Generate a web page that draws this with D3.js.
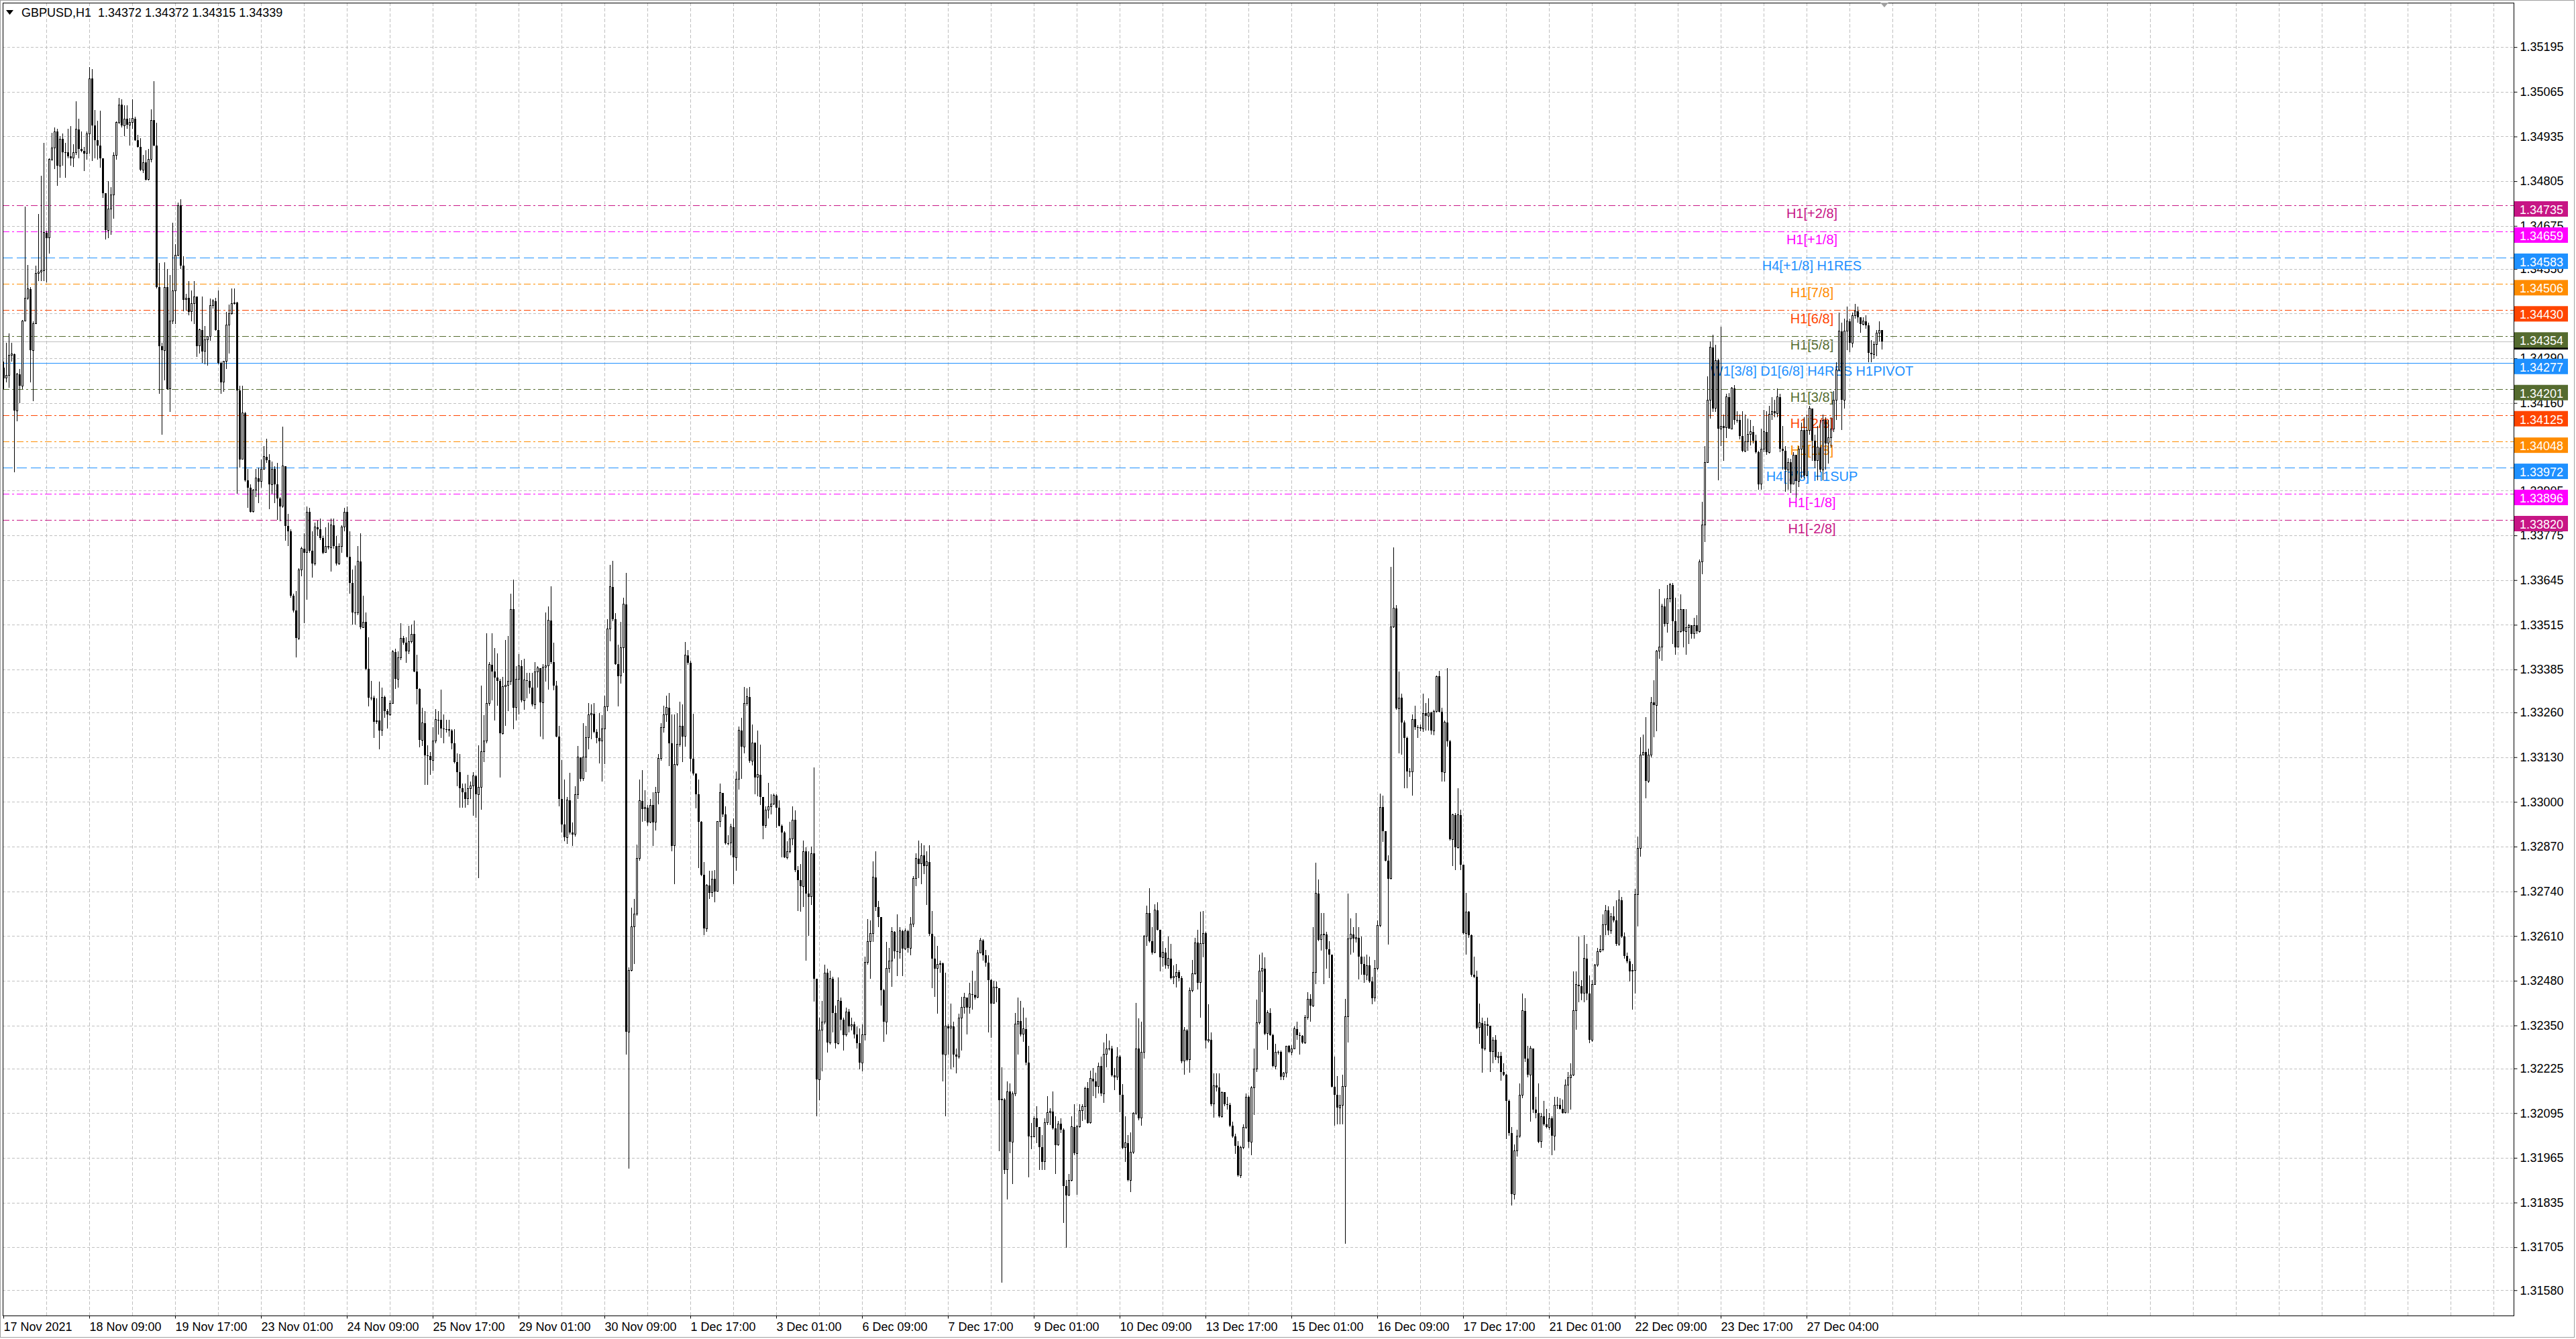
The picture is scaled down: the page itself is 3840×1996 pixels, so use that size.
<!DOCTYPE html>
<html>
<head>
<meta charset="utf-8">
<title>GBPUSD,H1</title>
<script src="https://cdn.jsdelivr.net/npm/d3@7"></script>
<style>
  html, body { margin: 0; padding: 0; background: #fff; }
  svg { display: block; }
</style>
</head>
<body>
<div id="chart"></div>
<script>
// Chart header
const symbolTitle = 'GBPUSD,H1  1.34372 1.34372 1.34315 1.34339';

// H1 candles, prices in points above 1.30000 (4372 -> 1.34372)
// open of each bar is the close of the bar before it
const firstOpen = 4262;
const closes = [
  4232,4241,4299,4302,4138,4244,4210,4398,4465,4492, // 0
  4313,4391,4536,4541,4544,4655,4640,4868,4901,4949,
  4850,4928,4890,4889,4877,4872,4888,4956,4899,4892,
  4886,4942,5103,4967,4924,4908,4872,4771,4662,4725,
  4765,4881,4975,5027,4967,4986,4969,4975,4987,4924,
  4904,4838,4859,4810,4868,4982,4908,4496,4326,4313, // 50
  4496,4201,4398,4487,4590,4734,4559,4460,4465,4425,
  4450,4469,4326,4373,4310,4344,4353,4444,4456,4373,
  4277,4220,4281,4387,4420,4450,4452,4196,3996,4131,
  3936,3914,3844,3907,3941,3932,3968,4004,3993,3923,
  3968,3923,3883,3860,3977,3802,3787,3600,3557,3476, // 100
  3675,3737,3725,3843,3731,3693,3799,3793,3768,3725,
  3743,3740,3805,3743,3693,3743,3799,3843,3712,3637,
  3550,3550,3700,3507,3523,3386,3304,3304,3233,3236,
  3208,3305,3264,3254,3287,3436,3357,3420,3476,3463,
  3438,3466,3488,3379,3329,3180,3229,3136,3134,3121, // 150
  3177,3239,3239,3214,3212,3211,3207,3171,3115,3087,
  3040,3028,3009,3038,3046,3075,3022,3043,3146,3177,
  3287,3399,3379,3361,3351,3199,3335,3339,3351,3560,
  3274,3357,3395,3295,3354,3351,3333,3283,3379,3389,
  3289,3391,3395,3528,3407,3339,3190,3009,2934,2897, // 200
  3005,2910,2906,3022,3130,3068,3130,3187,3254,3257,
  3204,3187,3177,3212,3277,3503,3625,3532,3401,3366,
  3448,3575,2331,2511,2636,2673,2835,3003,2980,2984,
  2941,2990,2941,3028,3127,3217,3254,3274,3171,2872,
  3109,3167,3221,3190,3426,3405,3125,3083,3023,2943, // 250
  2788,2632,2757,2736,2776,2740,2943,3027,2963,2880,
  2880,2927,2838,3067,3208,3160,3286,3306,3119,3172,
  3071,3079,3015,2931,2976,2987,2993,3019,2984,2931,
  2910,2838,2856,2892,2948,2802,2772,2754,2856,2733,
  2724,2850,2485,2193,2336,2360,2503,2300,2486,2386, // 300
  2298,2422,2366,2322,2390,2348,2353,2324,2298,2241,
  2322,2533,2593,2617,2781,2695,2665,2453,2360,2515,
  2537,2623,2566,2563,2625,2573,2625,2575,2644,2778,
  2835,2820,2844,2814,2826,2617,2545,2515,2527,2530,
  2265,2348,2342,2348,2265,2259,2372,2402,2432,2402, // 350
  2441,2438,2432,2561,2597,2554,2533,2482,2414,2462,
  2458,2133,2135,1930,2157,2011,2151,2354,2362,2324,
  2340,2241,2028,2026,2079,2055,1996,1954,2067,2097,
  2100,2050,2002,2064,2047,1882,1856,1900,2055,1978,
  2055,2103,2115,2167,2067,2196,2188,2172,2232,2152, // 400
  2266,2282,2282,2205,2199,2259,2148,1995,2008,1900,
  1981,2094,2282,2080,2273,2609,2676,2595,2562,2685,
  2629,2548,2562,2524,2545,2488,2492,2505,2488,2246,
  2336,2250,2451,2501,2591,2474,2588,2618,2306,2309,
  2121,2175,2169,2085,2156,2121,2118,2058,2027,2000, // 450
  1914,1995,2054,2142,2011,2169,2223,2357,2508,2515,
  2326,2387,2322,2232,2273,2273,2201,2212,2290,2273,
  2282,2340,2322,2320,2300,2373,2427,2407,2505,2734,
  2599,2613,2615,2572,2555,2172,2148,2111,2118,2172,
  2376,2602,2615,2602,2605,2551,2528,2497,2524,2478, // 500
  2430,2515,2640,2985,2914,2830,2777,3509,3563,3271,
  3303,3231,3186,3088,3088,3240,3217,3217,3213,3258,
  3250,3260,3207,3263,3365,3263,3086,3231,3177,2891,
  2962,2868,2962,2817,2618,2680,2613,2497,2492,2344,
  2357,2282,2353,2350,2274,2308,2257,2261,2215,2206, // 550
  2130,2037,1859,1986,2029,2147,2393,2254,2206,2283,
  2105,2096,2012,2085,2063,2054,2079,2029,2118,2118,
  2108,2096,2176,2198,2206,2393,2469,2464,2443,2545,
  2443,2308,2469,2525,2565,2570,2643,2684,2626,2667,
  2655,2587,2714,2609,2553,2536,2508,2511,2731,2866, // 600
  3137,3145,3061,3137,3289,3281,3438,3450,3569,3518,
  3591,3631,3526,3450,3496,3560,3496,3506,3513,3489,
  3513,3496,3699,3806,3987,4169,4322,4144,4284,4085,
  4093,4088,4178,4085,4203,4110,4110,4064,4020,4048,
  4068,4076,4051,4017,3924,4026,4076,4017,4127,4136, // 650
  4130,4178,4026,4020,3966,3987,3924,4009,3933,4026,
  4081,3949,4081,4144,4051,3992,4031,3966,4110,4043,
  4059,4085,4169,4257,4369,4169,4369,4398,4335,4415,
  4427,4410,4389,4398,4386,4305,4301,4330,4364,4372,
  4339                                                // 700
];
const highs = [
  4281,4335,4362,4335,4304,4247,4259,4402,4732,4561,
  4496,4398,4559,4709,4821,4917,4660,4872,4946,4962,
  4958,4935,4944,4917,4958,4965,4913,5038,4987,4949,
  4904,4949,5137,5130,5011,4980,5010,4872,4769,4805,
  4787,4890,4978,5047,5043,5025,5025,4989,5043,4992,
  4940,4931,4881,4895,4899,5013,5095,4975,4568,4335,
  4570,4550,4532,4684,4622,4743,4752,4586,4478,4514,
  4487,4514,4452,4376,4469,4384,4355,4463,4462,4465,
  4487,4281,4283,4425,4447,4494,4494,4454,4210,4210,
  4134,3968,3923,3909,3968,3972,3995,4035,4056,4012,
  3990,3977,3986,3887,4091,3977,3837,3793,3606,3613,
  3680,3742,3781,3860,3855,3787,3812,3818,3824,3774,
  3799,3812,3824,3824,3774,3752,3805,3855,3860,3787,
  3675,3687,3743,3781,3600,3550,3478,3351,3308,3301,
  3349,3333,3308,3270,3295,3441,3445,3438,3519,3482,
  3478,3511,3516,3528,3428,3330,3274,3264,3165,3146,
  3217,3270,3264,3326,3254,3239,3239,3212,3212,3142,
  3140,3053,3053,3078,3059,3087,3078,3165,3339,3252,
  3491,3407,3491,3448,3432,3357,3364,3470,3482,3606,
  3647,3395,3429,3413,3416,3376,3376,3376,3407,3395,
  3374,3400,3550,3569,3627,3463,3351,3221,3121,3065,
  3015,3084,2940,3046,3162,3130,3229,3221,3287,3283,
  3287,3212,3258,3252,3308,3532,3690,3702,3548,3457,
  3523,3594,3665,2518,2692,2717,2876,3065,3093,3034,
  2990,3009,3028,3043,3140,3229,3279,3308,3316,3254,
  3254,3258,3292,3283,3465,3441,3411,3256,3083,3065,
  2945,2826,2760,2800,2800,2802,2945,3053,3027,2987,
  2904,2936,2951,3089,3220,3244,3334,3330,3334,3226,
  3172,3208,3166,3015,2987,3055,3023,3025,3023,3005,
  2935,2915,2886,2943,2987,2975,2814,2820,2888,2868,
  2856,2870,3101,2480,2372,2422,2527,2515,2509,2492,
  2408,2489,2432,2372,2402,2398,2372,2360,2348,2342,
  2354,2551,2659,2656,2828,2856,2712,2661,2456,2593,
  2575,2635,2625,2673,2635,2629,2632,2629,2665,2784,
  2850,2888,2880,2874,2856,2874,2683,2609,2581,2539,
  2533,2503,2354,2414,2360,2283,2384,2434,2444,2426,
  2474,2509,2480,2569,2605,2601,2569,2554,2486,2480,
  2477,2456,2229,2139,2187,2181,2157,2386,2432,2422,
  2402,2372,2291,2067,2085,2115,2055,2032,2079,2145,
  2109,2157,2085,2073,2079,2050,1900,1918,2085,2121,
  2061,2121,2121,2171,2185,2219,2226,2212,2242,2259,
  2300,2326,2306,2290,2226,2286,2263,2179,2085,2031,
  2038,2098,2416,2371,2360,2613,2699,2750,2635,2703,
  2709,2629,2595,2575,2609,2588,2524,2528,2511,2494,
  2345,2339,2461,2541,2605,2629,2680,2683,2623,2411,
  2330,2210,2210,2210,2158,2156,2142,2125,2071,2035,
  2013,2000,2062,2152,2147,2174,2282,2425,2555,2562,
  2548,2394,2400,2326,2296,2277,2277,2215,2290,2293,
  2293,2347,2360,2330,2322,2380,2447,2440,2635,2824,
  2774,2676,2676,2622,2595,2555,2259,2202,2148,2206,
  2427,2734,2662,2635,2676,2635,2609,2551,2555,2551,
  2492,2541,2656,3025,3018,2911,2845,3684,3741,3572,
  3379,3314,3236,3190,3099,3254,3280,3223,3226,3314,
  3287,3301,3263,3267,3368,3381,3274,3236,3388,3180,
  2965,2967,3039,2978,2817,2736,2683,2615,2551,2510,
  2414,2373,2362,2372,2350,2316,2321,2274,2274,2240,
  2209,2135,2054,2003,2046,2181,2443,2430,2291,2291,
  2257,2142,2181,2096,2130,2108,2096,2085,2142,2142,
  2139,2135,2193,2215,2240,2508,2508,2609,2481,2612,
  2587,2495,2481,2528,2575,2612,2672,2700,2697,2677,
  2697,2714,2744,2723,2621,2562,2545,2528,2748,2900,
  3188,3196,3247,3154,3306,3354,3442,3619,3577,3591,
  3631,3636,3636,3594,3560,3603,3560,3560,3518,3513,
  3535,3543,3704,3873,4034,4237,4339,4359,4330,4288,
  4381,4127,4186,4189,4207,4212,4136,4127,4136,4127,
  4115,4110,4093,4068,4020,4085,4139,4136,4152,4178,
  4169,4203,4186,4093,4034,4000,3997,4017,3966,4034,
  4102,4119,4127,4152,4144,4068,4093,4110,4127,4119,
  4110,4119,4195,4279,4423,4393,4406,4440,4406,4423,
  4449,4440,4403,4410,4415,4393,4342,4339,4372,4398,
  4372
];
const lows = [
  4201,4219,4205,4281,3959,4107,4160,4201,4407,4460,
  4219,4165,4389,4514,4514,4514,4510,4595,4864,4841,
  4792,4814,4850,4814,4872,4850,4846,4881,4872,4890,
  4835,4868,4886,4864,4872,4868,4844,4756,4635,4639,
  4649,4696,4868,4971,4962,4935,4958,4908,4958,4922,
  4902,4835,4829,4808,4808,4859,4906,4494,4187,4068,
  4226,4199,4134,4389,4389,4586,4550,4426,4429,4416,
  4398,4389,4295,4304,4277,4272,4268,4340,4434,4371,
  4272,4187,4192,4259,4304,4417,4447,3896,3972,3995,
  3932,3856,3842,3842,3887,3869,3914,3966,3986,3851,
  3896,3869,3820,3816,3856,3760,3743,3594,3550,3420,
  3470,3656,3519,3588,3725,3652,3687,3774,3762,3720,
  3734,3734,3669,3736,3687,3690,3725,3787,3710,3606,
  3516,3516,3544,3503,3505,3384,3277,3295,3187,3227,
  3152,3192,3245,3214,3250,3285,3329,3333,3413,3457,
  3405,3430,3462,3377,3283,3158,3162,3050,3050,3078,
  3090,3171,3196,3187,3171,3202,3190,3152,3112,3046,
  2984,2984,2984,2990,3009,2959,2953,2779,2978,3115,
  3170,3280,3295,3237,3280,3071,3195,3221,3264,3340,
  3212,3237,3254,3290,3267,3302,3314,3277,3270,3333,
  3190,3183,3350,3326,3400,3324,3188,2988,2910,2885,
  2878,2905,2872,2900,3009,3059,3062,3087,3152,3183,
  3200,3171,3112,3059,3109,3264,3466,3525,3398,3277,
  3345,3376,2266,1933,2508,2528,2670,2830,2943,2945,
  2931,2938,2872,2916,2993,3120,3202,3233,3105,2856,
  2760,3105,3160,3115,3160,3399,3089,3077,2981,2808,
  2784,2613,2623,2718,2724,2709,2740,2927,2955,2875,
  2874,2844,2760,2800,3035,3067,3142,3280,3113,3107,
  3023,3017,2991,2892,2925,2951,2963,2990,2924,2928,
  2838,2836,2832,2850,2874,2795,2683,2680,2695,2539,
  2610,2700,2420,2085,2133,2217,2354,2271,2294,2330,
  2282,2294,2336,2276,2318,2330,2336,2312,2282,2223,
  2217,2306,2527,2485,2593,2683,2635,2408,2303,2324,
  2503,2462,2545,2494,2545,2494,2569,2561,2554,2635,
  2754,2778,2760,2790,2700,2611,2458,2434,2384,2503,
  2187,2085,2265,2223,2229,2211,2253,2276,2384,2324,
  2384,2396,2426,2429,2563,2539,2521,2330,2315,2420,
  2417,1984,1602,1918,1844,1978,1888,2145,2265,2318,
  2303,2235,1909,1990,2026,2008,1930,1930,1930,2061,
  2061,2047,1918,2000,2037,1775,1703,1853,1896,1972,
  1858,2052,2073,2076,2064,2064,2145,2138,2152,2145,
  2125,2228,2277,2201,2161,2192,2098,1991,1954,1896,
  1866,1977,2090,2074,2058,2253,2582,2591,2555,2559,
  2626,2508,2521,2514,2514,2484,2470,2461,2478,2239,
  2206,2246,2212,2447,2497,2454,2373,2548,2282,2300,
  2116,2081,2158,2081,2081,2116,2105,2054,2024,1977,
  1910,1906,1991,2049,1995,1973,2089,2215,2353,2447,
  2322,2279,2319,2228,2223,2265,2192,2192,2199,2269,
  2264,2280,2309,2266,2296,2296,2366,2360,2403,2470,
  2595,2568,2470,2515,2488,2169,2058,2062,2062,2062,
  1715,2300,2555,2562,2591,2484,2497,2474,2481,2474,
  2411,2420,2511,2636,2884,2828,2586,2774,3505,3267,
  3142,3137,3039,3039,3072,3018,3209,3186,3206,3204,
  3207,3207,3196,3193,3260,3260,3059,3059,3160,2887,
  2814,2801,2864,2801,2615,2555,2605,2492,2488,2340,
  2296,2212,2277,2320,2215,2240,2249,2240,2189,2203,
  2020,2029,1826,1843,1969,2024,2138,2244,2198,2071,
  2096,2079,2007,1995,2058,2051,2046,1973,1986,2108,
  2105,2093,2093,2096,2105,2203,2338,2418,2423,2418,
  2423,2299,2303,2469,2520,2562,2565,2612,2612,2616,
  2650,2582,2582,2604,2545,2531,2477,2396,2443,2638,
  2841,3137,3010,3056,3129,3188,3205,3416,3411,3509,
  3492,3580,3459,3428,3450,3492,3450,3428,3459,3475,
  3475,3489,3492,3662,3755,3992,4115,4135,4135,3936,
  4034,3992,4059,4085,4085,4098,4102,4054,4017,4017,
  4020,4037,4043,4014,3907,3907,4017,4009,4014,4110,
  4119,4119,4017,3966,3902,3907,3899,3924,3885,3916,
  3941,3941,3946,4068,3992,3970,3936,3958,3936,3966,
  3983,4031,4076,4110,4254,4081,4144,4313,4308,4322,
  4406,4393,4364,4386,4376,4279,4279,4288,4296,4339,
  4315
];

// time axis labels, one every 32 bars starting at bar 0
const timeLabels = [
  '17 Nov 2021', '18 Nov 09:00', '19 Nov 17:00', '23 Nov 01:00', '24 Nov 09:00',
  '25 Nov 17:00', '29 Nov 01:00', '30 Nov 09:00', '1 Dec 17:00', '3 Dec 01:00',
  '6 Dec 09:00', '7 Dec 17:00', '9 Dec 01:00', '10 Dec 09:00', '13 Dec 17:00',
  '15 Dec 01:00', '16 Dec 09:00', '17 Dec 17:00', '21 Dec 01:00', '22 Dec 09:00',
  '23 Dec 17:00', '27 Dec 04:00'
];

// price scale labels
const priceTicks = [
  1.35195, 1.35065, 1.34935, 1.34805, 1.34675, 1.34550, 1.34420, 1.34290, 1.34160, 1.34030,
  1.33905, 1.33775, 1.33645, 1.33515, 1.33385, 1.33260, 1.33130, 1.33000, 1.32870, 1.32740,
  1.32610, 1.32480, 1.32350, 1.32225, 1.32095, 1.31965, 1.31835, 1.31705, 1.31580
];

// Murrey math levels
const levelPrices = [1.34735, 1.34659, 1.34583, 1.34506, 1.34430, 1.34354, 1.34277,
                     1.34201, 1.34125, 1.34048, 1.33972, 1.33896, 1.33820];
const levelNames = ['H1[+2/8]', 'H1[+1/8]', 'H4[+1/8] H1RES', 'H1[7/8]', 'H1[6/8]', 'H1[5/8]',
                    'W1[3/8] D1[6/8] H4RES H1PIVOT', 'H1[3/8]', 'H1[2/8]', 'H1[1/8]',
                    'H4[7/8] H1SUP', 'H1[-1/8]', 'H1[-2/8]'];
const levelOctaves = ['+2', '+1', '8', '7', '6', '5', '4', '3', '2', '1', '0', '-1', '-2'];
const lastPrice = 1.34339;

// ---- styles ----
const FONT = "'Liberation Sans', Arial, sans-serif";
const DASH_DOT = '10,4,3,4';
const octaveStyle = {
  '+2': { color: '#C71585', dash: DASH_DOT },
  '+1': { color: '#FF00FF', dash: DASH_DOT },
  '8':  { color: '#1E90FF', dash: '15,6' },
  '7':  { color: '#FF8C00', dash: DASH_DOT },
  '6':  { color: '#FF4500', dash: DASH_DOT },
  '5':  { color: '#556B2F', dash: DASH_DOT },
  '4':  { color: '#1E90FF', dash: null },
  '3':  { color: '#556B2F', dash: DASH_DOT },
  '2':  { color: '#FF4500', dash: DASH_DOT },
  '1':  { color: '#FF8C00', dash: DASH_DOT },
  '0':  { color: '#1E90FF', dash: '15,6' },
  '-1': { color: '#FF00FF', dash: DASH_DOT },
  '-2': { color: '#C71585', dash: DASH_DOT }
};

const width = 3840;
const height = 1996;
const plot = { left: 4, top: 4, right: 3747, bottom: 1961 };
const barStep = 4;
const toPrice = (v) => 1.3 + v / 100000;

const candles = closes.map((c, i) => {
  const o = i === 0 ? firstOpen : closes[i - 1];
  return {
    i,
    o: toPrice(o),
    c: toPrice(c),
    h: toPrice(Math.max(highs[i], o, c)),
    l: toPrice(Math.min(lows[i], o, c))
  };
});

const svg = d3.select('#chart')
  .append('svg')
  .attr('width', width)
  .attr('height', height)
  .style('font-family', FONT);

// window frame
svg.append('rect')
  .attr('x', 0.5).attr('y', 0.5)
  .attr('width', width - 3).attr('height', height - 3)
  .attr('fill', '#fff')
  .attr('stroke', '#a0a0a0');

// Scales: bar index -> x, price -> y
const xscale = d3.scaleLinear()
  .domain([0, (plot.right - 5) / barStep])
  .range([5, plot.right]);
const yscale = d3.scaleLinear()
  .domain([1.315064, 1.353241])
  .range([plot.bottom, plot.top]);

// Grid
const grid = svg.append('g').attr('shape-rendering', 'crispEdges');
grid.selectAll('line.hgrid')
  .data(priceTicks)
  .enter()
  .append('line')
  .attr('class', 'hgrid')
  .attr('x1', plot.left).attr('x2', plot.right)
  .attr('y1', (d) => Math.round(yscale(d)) + 0.5)
  .attr('y2', (d) => Math.round(yscale(d)) + 0.5)
  .attr('stroke', '#c0c0c0')
  .attr('stroke-dasharray', '4,3');
grid.selectAll('line.vgrid')
  .data(d3.range(16, xscale.domain()[1], 16))
  .enter()
  .append('line')
  .attr('class', 'vgrid')
  .attr('x1', (d) => Math.round(xscale(d)) + 0.5)
  .attr('x2', (d) => Math.round(xscale(d)) + 0.5)
  .attr('y1', plot.top).attr('y2', plot.bottom)
  .attr('stroke', '#c0c0c0')
  .attr('stroke-dasharray', '5,3');

// Level lines
const levels = levelPrices.map((p, k) => ({ p, name: levelNames[k], style: octaveStyle[levelOctaves[k]] }));
const levelG = svg.append('g');
levelG.selectAll('line')
  .data(levels)
  .enter()
  .append('line')
  .attr('x1', plot.left).attr('x2', plot.right)
  .attr('y1', (d) => Math.round(yscale(d.p)) + 0.5)
  .attr('y2', (d) => Math.round(yscale(d.p)) + 0.5)
  .attr('stroke', (d) => d.style.color)
  .attr('stroke-width', 1)
  .attr('stroke-dasharray', (d) => d.style.dash)
  .attr('shape-rendering', 'crispEdges');

// Current bid line
svg.append('line')
  .attr('x1', plot.left).attr('x2', plot.right)
  .attr('y1', Math.round(yscale(lastPrice)) + 0.5)
  .attr('y2', Math.round(yscale(lastPrice)) + 0.5)
  .attr('stroke', '#c0c0c0')
  .attr('shape-rendering', 'crispEdges');

// Level names inside the chart
const labelX = xscale(674);
levelG.selectAll('text')
  .data(levels)
  .enter()
  .append('text')
  .attr('x', labelX)
  .attr('y', (d) => yscale(d.p) + 19.5)
  .attr('text-anchor', 'middle')
  .attr('fill', (d) => d.style.color)
  .style('font-size', '20px')
  .text((d) => d.name);

// Candles
const candleG = svg.append('g').attr('shape-rendering', 'crispEdges');
const cx = (d) => Math.round(xscale(d.i));
candleG.selectAll('line.wick')
  .data(candles)
  .enter()
  .append('line')
  .attr('class', 'wick')
  .attr('x1', (d) => cx(d) + 0.5).attr('x2', (d) => cx(d) + 0.5)
  .attr('y1', (d) => yscale(d.h))
  .attr('y2', (d) => yscale(d.l))
  .attr('stroke', '#000');
candleG.selectAll('rect.body')
  .data(candles)
  .enter()
  .append('rect')
  .attr('class', 'body')
  .attr('x', (d) => (d.c > d.o ? cx(d) - 0.5 : cx(d) - 1))
  .attr('width', (d) => (d.c > d.o ? 2 : 3))
  .attr('y', (d) => yscale(Math.max(d.o, d.c)))
  .attr('height', (d) => Math.max(1, yscale(Math.min(d.o, d.c)) - yscale(Math.max(d.o, d.c))))
  .attr('fill', (d) => (d.c > d.o ? '#fff' : '#000'))
  .attr('stroke', (d) => (d.c > d.o ? '#000' : 'none'));

// Plot frame
svg.append('rect')
  .attr('x', plot.left + 0.5).attr('y', plot.top + 0.5)
  .attr('width', plot.right - plot.left).attr('height', plot.bottom - plot.top)
  .attr('fill', 'none')
  .attr('stroke', '#000')
  .attr('shape-rendering', 'crispEdges');

// Price axis
const yAxis = d3.axisRight(yscale)
  .tickValues(priceTicks)
  .tickFormat(d3.format('.5f'))
  .tickSize(5)
  .tickPadding(4);
const yAxisG = svg.append('g')
  .attr('transform', `translate(${plot.right + 0.5}, 0)`)
  .call(yAxis);
yAxisG.select('.domain').remove();
yAxisG.selectAll('text').style('font-size', '18px').style('font-family', FONT).attr('fill', '#000');

// Time axis
const xAxis = d3.axisBottom(xscale)
  .tickValues(timeLabels.map((t, k) => k * 32))
  .tickFormat((d, k) => timeLabels[k])
  .tickSize(4)
  .tickPadding(6);
const xAxisG = svg.append('g')
  .attr('transform', `translate(0, ${plot.bottom + 0.5})`)
  .call(xAxis);
xAxisG.select('.domain').remove();
xAxisG.selectAll('text')
  .attr('text-anchor', 'start')
  .style('font-size', '18px')
  .style('font-family', FONT)
  .attr('fill', '#000');

// Bid price box, then level price boxes on top of it
const priceBoxes = svg.append('g');
const bidY = yscale(lastPrice);
priceBoxes.append('rect')
  .attr('x', plot.right + 1).attr('y', bidY - 11)
  .attr('width', 80).attr('height', 23)
  .attr('fill', '#000');
priceBoxes.append('text')
  .attr('x', plot.right + 9).attr('y', bidY + 7)
  .attr('fill', '#fff')
  .style('font-size', '18px')
  .text(lastPrice.toFixed(5));
levels.forEach((d) => {
  const y = yscale(d.p);
  priceBoxes.append('rect')
    .attr('x', plot.right + 1).attr('y', y - 6)
    .attr('width', 80).attr('height', 23)
    .attr('fill', d.style.color);
  priceBoxes.append('text')
    .attr('x', plot.right + 9).attr('y', y + 13)
    .attr('fill', '#fff')
    .style('font-size', '18px')
    .text(d.p.toFixed(5));
});

// Header
svg.append('path')
  .attr('d', 'M9,15 L20,15 L14.5,22 Z')
  .attr('fill', '#000');
svg.append('text')
  .attr('x', 32).attr('y', 25)
  .attr('fill', '#000')
  .style('font-size', '18px')
  .style('white-space', 'pre')
  .attr('xml:space', 'preserve')
  .text(symbolTitle);

// chart shift marker
const shiftX = xscale(701);
svg.append('path')
  .attr('d', `M${shiftX - 6},${plot.top} L${shiftX + 6},${plot.top} L${shiftX},${plot.top + 7} Z`)
  .attr('fill', '#a0a0a0');
</script>
</body>
</html>
